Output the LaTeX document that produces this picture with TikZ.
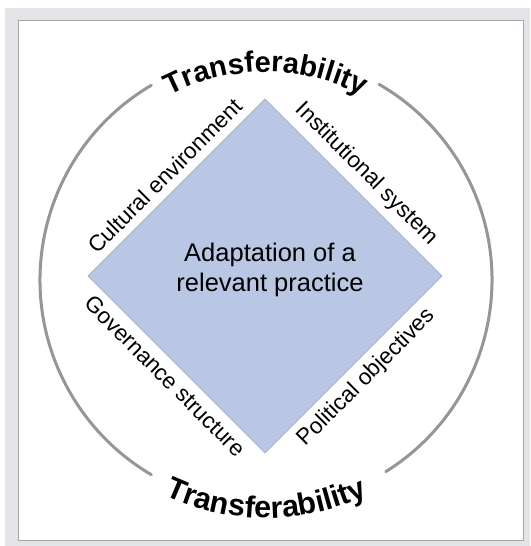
\documentclass[tikz,border=0pt]{standalone}
\usepackage{fontspec}
\setmainfont{Liberation Sans}
\usetikzlibrary{decorations.text}
\definecolor{diamondblue}{RGB}{186,199,228}
\definecolor{edgeblue}{RGB}{150,163,192}
\definecolor{arcgray}{RGB}{150,150,150}
\definecolor{framegray}{RGB}{226,228,231}
\newcommand\ringfont{\fontsize{29}{30}\selectfont\bfseries}
\newcommand\lowringfont{\fontsize{30.5}{32}\selectfont\bfseries}
\tikzset{
  sidelabel/.style={sloped, midway, inner sep=8pt, font=\fontsize{22.5}{24}\selectfont, text=black},
  ringarc/.style={arcgray, line width=3pt, line cap=round},
  ringtext/.style={decorate, decoration={text along path, text align=center, text={|#1|Transferability}}},
}
\begin{document}
\begin{tikzpicture}[x=1pt,y=1pt]
\useasboundingbox (0,0) rectangle (530,546);
\fill [framegray] (5,0) rectangle (530,538);
\draw [black!35, fill=white, line width=0.8pt] (18,6) rectangle (523,526);

\coordinate (ctr) at (266,266);
\coordinate (top) at (265,447);
\coordinate (right) at (442,270);
\coordinate (bottom) at (265,93);
\coordinate (left) at (88,270);

\draw [edgeblue, fill=diamondblue, line width=0.6pt] (left) -- (top) -- (right) -- (bottom) -- cycle;
\node [align=center, font=\fontsize{25.5}{30}\selectfont, text=black] (practice) at (270,275.6) {Adaptation of a\\relevant practice};

\path (left) -- (top) node [sidelabel, above] (cultural) {Cultural environment};
\path (top) -- (right) node [sidelabel, above] (institutional) {Institutional system};
\path (left) -- (bottom) node [sidelabel, below] (governance) {Governance structure};
\path (bottom) -- (right) node [sidelabel, below] (political) {Political objectives};

\draw [ringarc] (ctr) ++(120.5:226) arc [start angle=120.5, end angle=239.5, radius=226];
\draw [ringarc] (ctr) ++(-58:226) arc [start angle=-58, end angle=60, radius=226];

\path [ringtext=\ringfont] (ctr) ++(150:208) arc [start angle=150, end angle=30, radius=208];
\path [ringtext=\lowringfont] (ctr) ++(210:238) arc [start angle=210, end angle=330, radius=238];
\end{tikzpicture}
\end{document}
